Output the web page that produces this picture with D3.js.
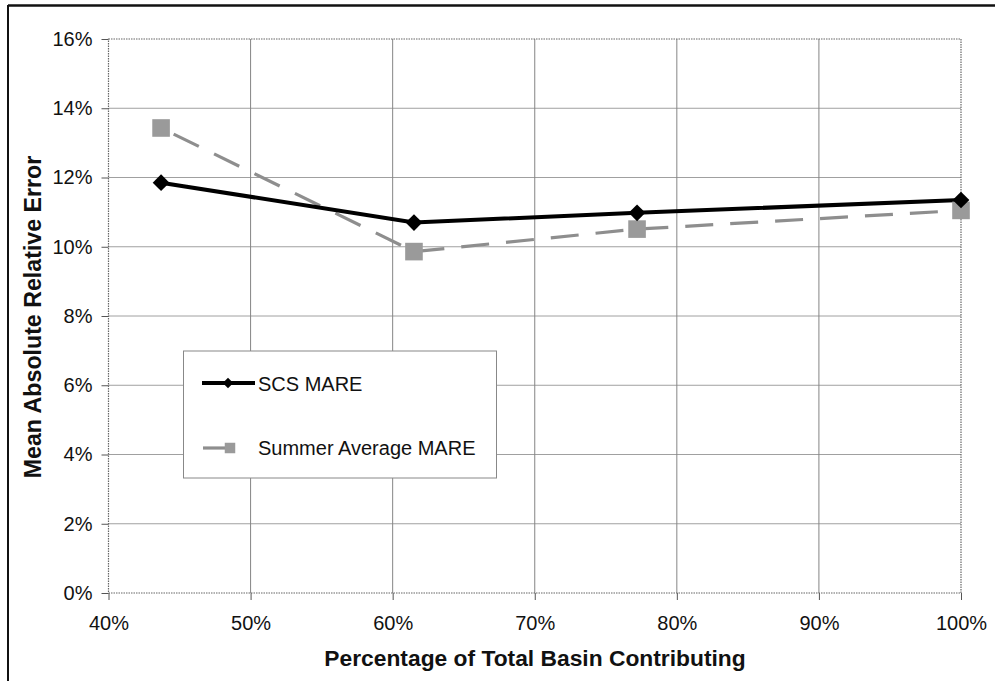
<!DOCTYPE html>
<html>
<head>
<meta charset="utf-8">
<script src="https://cdn.jsdelivr.net/npm/d3@7/dist/d3.min.js"></script>
<style>
  html, body { margin: 0; padding: 0; background: #fff; }
  svg { display: block; }
  text { font-family: "Liberation Sans", Arial, sans-serif; fill: #111; }
</style>
</head>
<body>
<svg id="chart" width="995" height="681"></svg>
<script>
// Share of basin contributing (x) and error series
const basinShare = [0.437, 0.615, 0.772, 1.0];
const scsMare = [0.1185, 0.107, 0.1098, 0.1135];
const summerAvgMare = [0.1343, 0.0986, 0.1051, 0.1105];
const xTicks = [0.4, 0.5, 0.6, 0.7, 0.8, 0.9, 1.0];
const yTicks = [0, 0.02, 0.04, 0.06, 0.08, 0.10, 0.12, 0.14, 0.16];
const seriesNames = ["SCS MARE", "Summer Average MARE"];
const xTitle = "Percentage of Total Basin Contributing";
const yTitle = "Mean Absolute Relative Error";

const svg = d3.select("#chart");
const W = 995, H = 681;
const plot = { left: 108.5, right: 961, top: 39, bottom: 593 };

const x = d3.scaleLinear().domain([0.4, 1.0]).range([plot.left, plot.right]);
const y = d3.scaleLinear().domain([0, 0.16]).range([plot.bottom, plot.top]);
const pct = d3.format(".0%");

// page frame (top and left rule)
svg.append("line").attr("x1", 8).attr("x2", W).attr("y1", 5.5).attr("y2", 5.5)
  .attr("stroke", "#111").attr("stroke-width", 2.5);
svg.append("line").attr("x1", 8).attr("x2", 8).attr("y1", 5).attr("y2", H)
  .attr("stroke", "#111").attr("stroke-width", 2);

// gridlines
const grid = svg.append("g");
grid.selectAll("line.h").data(yTicks.slice(1, -1)).join("line")
  .attr("x1", plot.left).attr("x2", plot.right)
  .attr("y1", d => y(d)).attr("y2", d => y(d))
  .attr("stroke", "#a0a0a0").attr("stroke-width", 1);
grid.selectAll("line.v").data(xTicks.slice(1, -1)).join("line")
  .attr("x1", d => x(d)).attr("x2", d => x(d))
  .attr("y1", plot.top).attr("y2", plot.bottom)
  .attr("stroke", "#858585").attr("stroke-width", 1);

// plot area border (dotted)
svg.append("rect")
  .attr("x", plot.left).attr("y", plot.top)
  .attr("width", plot.right - plot.left).attr("height", plot.bottom - plot.top)
  .attr("fill", "none").attr("stroke", "#666").attr("stroke-width", 1.2)
  .attr("stroke-dasharray", "1.5,1");

// axes
const yAxis = d3.axisLeft(y).tickValues(yTicks).tickFormat(pct).tickSize(7).tickPadding(9);
const gy = svg.append("g").attr("transform", `translate(${plot.left},0)`).call(yAxis);
const xAxis = d3.axisBottom(x).tickValues(xTicks).tickFormat(pct).tickSize(7).tickPadding(16);
const gx = svg.append("g").attr("transform", `translate(0,${plot.bottom})`).call(xAxis);
[gx, gy].forEach(g => {
  g.select(".domain").remove();
  g.selectAll(".tick line").attr("stroke", "#555");
  g.selectAll(".tick text").attr("font-size", 20).attr("fill", "#111")
    .attr("font-family", "Liberation Sans, Arial, sans-serif");
});

// axis titles
svg.append("text").attr("x", 535).attr("y", 666).attr("text-anchor", "middle")
  .attr("font-size", 22.8).attr("font-weight", "bold").text(xTitle);
svg.append("text").attr("transform", "translate(41,317) rotate(-90)")
  .attr("text-anchor", "middle").attr("font-size", 23.2).attr("font-weight", "bold").text(yTitle);

// series
const ptsScs = basinShare.map((d, i) => [d, scsMare[i]]);
const ptsSum = basinShare.map((d, i) => [d, summerAvgMare[i]]);
const line = d3.line().x(d => x(d[0])).y(d => y(d[1]));

const grey = "#8e8e8e";
svg.append("path").datum(ptsSum).attr("d", line)
  .attr("fill", "none").attr("stroke", grey).attr("stroke-width", 3.2)
  .attr("stroke-dasharray", "28,17").attr("stroke-dashoffset", -14);
svg.append("path").datum(ptsScs).attr("d", line)
  .attr("fill", "none").attr("stroke", "#000").attr("stroke-width", 4);

const diamond = d3.symbol(d3.symbolSquare, 140);
const square = d3.symbol(d3.symbolSquare, 310);
svg.selectAll("path.sq").data(ptsSum).join("path")
  .attr("d", square).attr("fill", "#9a9a9a")
  .attr("transform", d => `translate(${x(d[0])},${y(d[1])})`);
svg.selectAll("path.dm").data(ptsScs).join("path")
  .attr("d", diamond).attr("fill", "#000")
  .attr("transform", d => `translate(${x(d[0])},${y(d[1])}) rotate(45)`);

// legend
const lg = svg.append("g");
lg.append("rect").attr("x", 183.5).attr("y", 351).attr("width", 313).attr("height", 127)
  .attr("fill", "#fff").attr("stroke", "#888").attr("stroke-width", 1);
lg.append("line").attr("x1", 202).attr("x2", 255).attr("y1", 383).attr("y2", 383)
  .attr("stroke", "#000").attr("stroke-width", 4);
lg.append("path").attr("d", d3.symbol(d3.symbolSquare, 55))
  .attr("transform", "translate(228,383) rotate(45)").attr("fill", "#000");
lg.append("line").attr("x1", 203).attr("x2", 228).attr("y1", 448).attr("y2", 448)
  .attr("stroke", grey).attr("stroke-width", 3.2);
lg.append("path").attr("d", d3.symbol(d3.symbolSquare, 110))
  .attr("transform", "translate(230,448)").attr("fill", "#9a9a9a");
lg.append("text").attr("x", 258).attr("y", 391).attr("font-size", 20).text(seriesNames[0]);
lg.append("text").attr("x", 258).attr("y", 455).attr("font-size", 20).text(seriesNames[1]);
</script>
</body>
</html>
